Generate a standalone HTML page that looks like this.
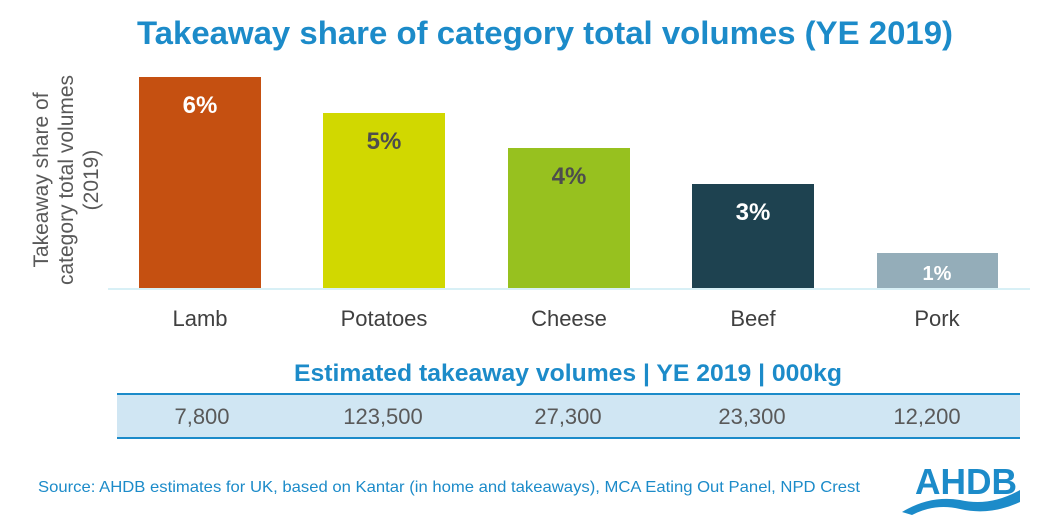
<!DOCTYPE html>
<html><head><meta charset="utf-8"><style>
body{margin:0;background:#fff;}
svg{display:block;font-family:"Liberation Sans",Arial,sans-serif;}
</style></head><body>
<svg width="1056" height="515" viewBox="0 0 1056 515">
<text x="137" y="44" textLength="816" lengthAdjust="spacingAndGlyphs" font-size="32" font-weight="bold" fill="#1c8bc9">Takeaway share of category total volumes (YE 2019)</text>
<g transform="translate(48,180) rotate(-90)" font-size="21" fill="#595959" text-anchor="middle">
<text x="0" y="0">Takeaway share of</text>
<text x="0" y="25">category total volumes</text>
<text x="0" y="50">(2019)</text>
</g>
<rect x="139" y="77" width="122" height="211" fill="#c55011"/>
<rect x="323" y="113" width="122" height="175" fill="#d1d800"/>
<rect x="508" y="148" width="122" height="140" fill="#97c11f"/>
<rect x="692" y="184" width="122" height="104" fill="#1e4250"/>
<rect x="877" y="253" width="121" height="35" fill="#94adb9"/>
<line x1="108" y1="289" x2="1030" y2="289" stroke="#d8f0f6" stroke-width="2"/>
<g font-size="24" font-weight="bold" text-anchor="middle">
<text x="200" y="113" fill="#fff">6%</text>
<text x="384" y="149" fill="#4d4d4d">5%</text>
<text x="569" y="184" fill="#4d4d4d">4%</text>
<text x="753" y="220" fill="#fff">3%</text>
<text x="937" y="280" fill="#fff" font-size="20">1%</text>
</g>
<g font-size="22" fill="#404040" text-anchor="middle">
<text x="200" y="326">Lamb</text>
<text x="384" y="326">Potatoes</text>
<text x="569" y="326">Cheese</text>
<text x="753" y="326">Beef</text>
<text x="937" y="326">Pork</text>
</g>
<text x="294" y="381" textLength="548" lengthAdjust="spacingAndGlyphs" font-size="24" font-weight="bold" fill="#1c8bc9">Estimated takeaway volumes | YE 2019 | 000kg</text>
<rect x="117" y="394" width="903" height="45" fill="#d0e6f3"/>
<line x1="117" y1="394" x2="1020" y2="394" stroke="#1c8bc9" stroke-width="2"/>
<line x1="117" y1="438" x2="1020" y2="438" stroke="#1c8bc9" stroke-width="2"/>
<g font-size="22" fill="#595959" text-anchor="middle">
<text x="202" y="424">7,800</text>
<text x="383" y="424">123,500</text>
<text x="568" y="424">27,300</text>
<text x="752" y="424">23,300</text>
<text x="927" y="424">12,200</text>
</g>
<text x="38" y="492" textLength="822" lengthAdjust="spacingAndGlyphs" font-size="16" fill="#1c8bc9">Source: AHDB estimates for UK, based on Kantar (in home and takeaways), MCA Eating Out Panel, NPD Crest</text>
<text x="915" y="494" textLength="102" lengthAdjust="spacingAndGlyphs" font-size="36" font-weight="bold" fill="#1c8bc9">AHDB</text>
<path d="M902 512 Q930 495 960 500 Q990 507 1020 490 L1020 502 Q990 516 960 509 Q935 503 912 515 Z" fill="#1c8bc9"/>
</svg>
</body></html>
